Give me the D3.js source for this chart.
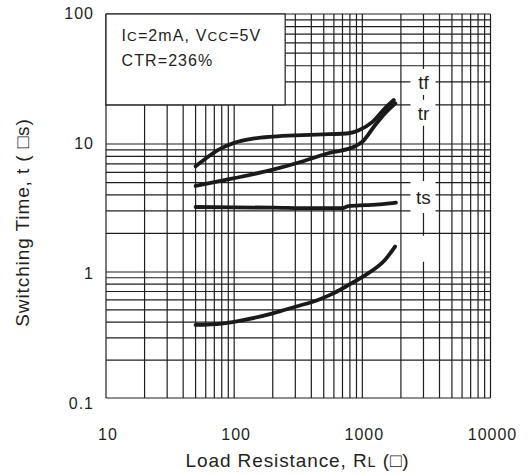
<!DOCTYPE html>
<html>
<head>
<meta charset="utf-8">
<script src="https://cdn.jsdelivr.net/npm/d3@7"></script>
<style>
  html, body { margin: 0; padding: 0; background: #fff; }
  svg { display: block; }
  text { font-family: "Liberation Sans", Arial, Helvetica, sans-serif; fill: #231f20; }
</style>
</head>
<body>
<svg id="chart" width="529" height="475"></svg>
<script>
// Load resistance (ohm) and switching times (us) for each curve
const tfR = [50, 60, 75, 100, 140, 200, 340, 550, 780, 930, 1200, 1500, 1760];
const tfT = [6.7, 7.7, 9.0, 10.2, 11.0, 11.4, 11.7, 11.9, 12.1, 12.7, 14.8, 18.8, 21.8];

const trR = [50, 75, 200, 340, 550, 880, 1000, 1260, 1500, 1810];
const trT = [4.7, 5.1, 6.3, 7.3, 8.5, 9.6, 10.4, 14.0, 17.2, 20.6];

const tsR = [50, 100, 200, 400, 690, 780, 1060, 1500, 1830];
const tsT = [3.22, 3.20, 3.18, 3.15, 3.15, 3.27, 3.33, 3.40, 3.48];

const tdR = [50, 80, 110, 200, 300, 450, 600, 800, 1100, 1500, 1800];
const tdT = [0.38, 0.39, 0.41, 0.47, 0.53, 0.60, 0.68, 0.80, 0.97, 1.24, 1.58];

// Curve labels placed at RL = 3000 (the fourth one is left blank)
const labelNames = ["tf", "tr", "ts", ""];
const labelValues = [30, 17.4, 3.85, 1.52];

// Axis tick labels
const xTicks = [10, 100, 1000, 10000];
const yTicks = [0.1, 1, 10, 100];

const svg = d3.select("#chart");

const xScale = d3.scaleLog().domain([10, 10000]).range([106, 490.5]);
const yScale = d3.scaleLog().domain([0.1, 1, 10, 100]).range([398, 272, 144, 14]);
// tick labels sit on an evenly spaced scale
const yTickScale = d3.scaleLog().domain([0.1, 100]).range([403, 13]);

const [x0, x1] = xScale.range();
const y0 = yScale(0.1), y1 = yScale(100);

// Grid values: 1..9 per decade
const xGrid = [];
[10, 100, 1000].forEach(d => { for (let k = 1; k <= 9; k++) xGrid.push(k * d); });
xGrid.push(10000);
const yGrid = [];
[0.1, 1, 10].forEach(d => { for (let k = 1; k <= 9; k++) yGrid.push(+(k * d).toPrecision(3)); });
yGrid.push(100);

const grid = svg.append("g").attr("stroke", "#1e1e1e").attr("stroke-width", 1.2);
grid.selectAll("line.v").data(xGrid).join("line")
  .attr("class", "v")
  .attr("x1", d => xScale(d)).attr("x2", d => xScale(d))
  .attr("y1", y0).attr("y2", y1);
grid.selectAll("line.h").data(yGrid).join("line")
  .attr("class", "h")
  .attr("y1", d => yScale(d)).attr("y2", d => yScale(d))
  .attr("x1", x0).attr("x2", x1);

// Condition box in the upper-left corner
const boxRight = xScale(250);
const boxBottom = yScale(20);
svg.append("rect")
  .attr("x", x0).attr("y", y1)
  .attr("width", boxRight - x0).attr("height", boxBottom - y1)
  .attr("fill", "#fff").attr("stroke", "#1e1e1e").attr("stroke-width", 1.2);

const cond = svg.append("g").attr("font-size", 16).attr("letter-spacing", 1.1);
const c1 = cond.append("text").attr("x", 121.5).attr("y", 40.5);
c1.append("tspan").text("I");
c1.append("tspan").attr("font-size", 13.5).text("C");
c1.append("tspan").text("=2mA, V");
c1.append("tspan").attr("font-size", 13.5).text("CC");
c1.append("tspan").text("=5V");
cond.append("text").attr("x", 121.5).attr("y", 65.5).text("CTR=236%");

// Label backgrounds
const lx = xScale(3000);
const labels = svg.append("g");
labelNames.forEach((name, i) => {
  const cy = yScale(labelValues[i]);
  const h = name === "ts" ? 32 : 26;
  labels.append("rect")
    .attr("x", lx - 13).attr("y", cy - h / 2)
    .attr("width", 25).attr("height", h)
    .attr("fill", "#fff");
  if (name) {
    labels.append("text")
      .attr("x", lx).attr("y", cy).attr("dy", "0.36em")
      .attr("text-anchor", "middle").attr("font-size", 19)
      .text(name);
  }
});

// Curves
const line = d3.line()
  .x(d => xScale(d[0]))
  .y(d => yScale(d[1]))
  .curve(d3.curveMonotoneX);

const series = [
  [tfR, tfT],
  [trR, trT],
  [tsR, tsT],
  [tdR, tdT]
];
svg.append("g").selectAll("path").data(series).join("path")
  .attr("d", s => line(d3.zip(s[0], s[1])))
  .attr("fill", "none")
  .attr("stroke", "#1a1a1a")
  .attr("stroke-width", 3.8)
  .attr("stroke-linecap", "round")
  .attr("stroke-linejoin", "round");

// Axes tick labels
const xAxis = svg.append("g")
  .attr("transform", `translate(1.5,${y0})`)
  .call(d3.axisBottom(xScale).tickValues(xTicks).tickSize(0).tickPadding(0)
    .tickFormat(d3.format("d")));
xAxis.select(".domain").remove();
xAxis.selectAll("text")
  .attr("y", 42).attr("dy", 0)
  .attr("font-size", 16).attr("letter-spacing", 1)
  .attr("font-family", "Liberation Sans, Arial, sans-serif")
  .attr("fill", "#231f20");

const yAxis = svg.append("g")
  .attr("transform", `translate(94,0)`)
  .call(d3.axisLeft(yTickScale).tickValues(yTicks).tickSize(0).tickPadding(0)
    .tickFormat(d => d < 1 ? "0.1" : d3.format("d")(d)));
yAxis.select(".domain").remove();
yAxis.selectAll("text")
  .attr("x", 0).attr("dy", "0.36em")
  .attr("font-size", 16).attr("letter-spacing", 1)
  .attr("font-family", "Liberation Sans, Arial, sans-serif")
  .attr("fill", "#231f20");

// Axis titles
const xt = svg.append("text")
  .attr("x", 297.5).attr("y", 466.5)
  .attr("text-anchor", "middle").attr("font-size", 19).attr("letter-spacing", 0.9);
xt.append("tspan").text("Load Resistance, R");
xt.append("tspan").attr("font-size", 14.5).text("L");
xt.append("tspan").text(" (\u25A1)");

svg.append("text")
  .attr("transform", "translate(29,222.5) rotate(-90)")
  .attr("text-anchor", "middle").attr("font-size", 19).attr("letter-spacing", 0.9)
  .text("Switching Time, t ( \u25A1s)");
</script>
</body>
</html>
